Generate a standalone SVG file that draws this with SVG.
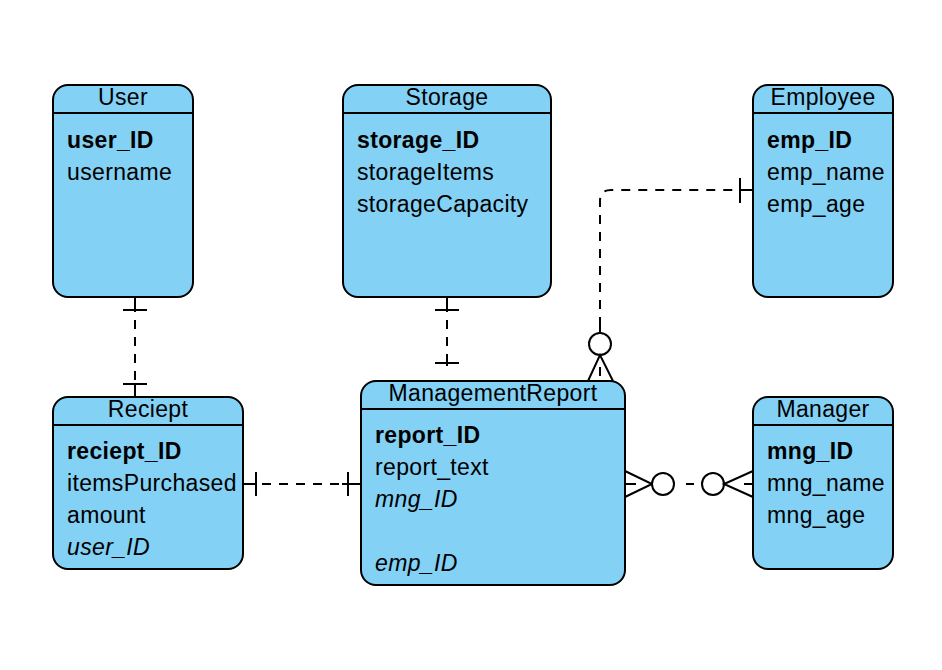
<svg xmlns="http://www.w3.org/2000/svg" width="942" height="670" viewBox="0 0 942 670">
<style>
.box{fill:#83d1f5;stroke:#000;stroke-width:2}
.hd{stroke:#000;stroke-width:2}
text{font-family:"Liberation Sans",Arial,Helvetica,sans-serif;font-size:23px;letter-spacing:0.35px;fill:#000}
.t{text-anchor:middle}
.b{font-weight:bold}
.i{font-style:italic}
.dash{fill:none;stroke:#000;stroke-width:2;stroke-dasharray:9 8}
.s{fill:none;stroke:#000;stroke-width:2}
.c{fill:#fff;stroke:#000;stroke-width:2}
</style>
<rect width="942" height="670" fill="#fff"/>
<g id="connectors">
  <!-- User - Reciept -->
  <path class="dash" d="M135 303 V391"/>
  <path class="s" d="M135 297 V310 M123 310 H147 M123 384 H147 M135 384 V397"/>
  <!-- Storage - ManagementReport -->
  <path class="dash" d="M447 303 V358"/>
  <path class="s" d="M447 297 V310 M435 310 H459 M435 363 H459 M447 357 V366"/>
  <!-- Reciept - ManagementReport -->
  <path class="dash" d="M262 484 H342"/>
  <path class="s" d="M243 484 H256 M256 472 V496 M348 472 V496 M342 484 H361"/>
  <!-- ManagementReport - Manager -->
  <path class="s" d="M625 484 H636 M625 471 L652 484 L625 497"/>
  <circle class="c" cx="663" cy="484" r="11"/>
  <path class="s" d="M686 484 H694"/>
  <circle class="c" cx="713" cy="484" r="11"/>
  <path class="s" d="M744 484 H753 M753 471 L724 484 L753 497"/>
  <!-- ManagementReport - Employee -->
  <path class="dash" d="M600 326 V201 Q600 190 611 190 H734"/>
  <path class="s" d="M740 178 V203 M740 190 H753"/>
  <circle class="c" cx="600" cy="344" r="11"/>
  <path class="s" d="M600 326 V333 M588 381 L600 355 L613 381 M600 367 V376"/>
</g>
<g id="User">
  <rect class="box" x="53" y="85" width="140" height="212" rx="15"/>
  <line class="hd" x1="53" y1="113" x2="193" y2="113"/>
  <text class="t" x="123" y="105">User</text>
  <text class="b" x="67" y="148">user_ID</text>
  <text x="67" y="180">username</text>
</g>
<g id="Storage">
  <rect class="box" x="343" y="85" width="208" height="212" rx="15"/>
  <line class="hd" x1="343" y1="113" x2="551" y2="113"/>
  <text class="t" x="447" y="105">Storage</text>
  <text class="b" x="357" y="148">storage_ID</text>
  <text x="357" y="180">storageItems</text>
  <text x="357" y="212">storageCapacity</text>
</g>
<g id="Employee">
  <rect class="box" x="753" y="85" width="140" height="212" rx="15"/>
  <line class="hd" x1="753" y1="113" x2="893" y2="113"/>
  <text class="t" x="823" y="105">Employee</text>
  <text class="b" x="767" y="148">emp_ID</text>
  <text x="767" y="180">emp_name</text>
  <text x="767" y="212">emp_age</text>
</g>
<g id="Reciept">
  <rect class="box" x="53" y="397" width="190" height="172" rx="15"/>
  <line class="hd" x1="53" y1="425" x2="243" y2="425"/>
  <text class="t" x="148" y="417">Reciept</text>
  <text class="b" x="67" y="459">reciept_ID</text>
  <text x="67" y="491">itemsPurchased</text>
  <text x="67" y="523">amount</text>
  <text class="i" x="67" y="555">user_ID</text>
</g>
<g id="ManagementReport">
  <rect class="box" x="361" y="381" width="264" height="204" rx="15"/>
  <line class="hd" x1="361" y1="409" x2="625" y2="409"/>
  <text class="t" x="493" y="401">ManagementReport</text>
  <text class="b" x="375" y="443">report_ID</text>
  <text x="375" y="475">report_text</text>
  <text class="i" x="375" y="507">mng_ID</text>
  <text class="i" x="375" y="571">emp_ID</text>
</g>
<g id="Manager">
  <rect class="box" x="753" y="397" width="140" height="172" rx="15"/>
  <line class="hd" x1="753" y1="425" x2="893" y2="425"/>
  <text class="t" x="823" y="417">Manager</text>
  <text class="b" x="767" y="459">mng_ID</text>
  <text x="767" y="491">mng_name</text>
  <text x="767" y="523">mng_age</text>
</g>
</svg>
